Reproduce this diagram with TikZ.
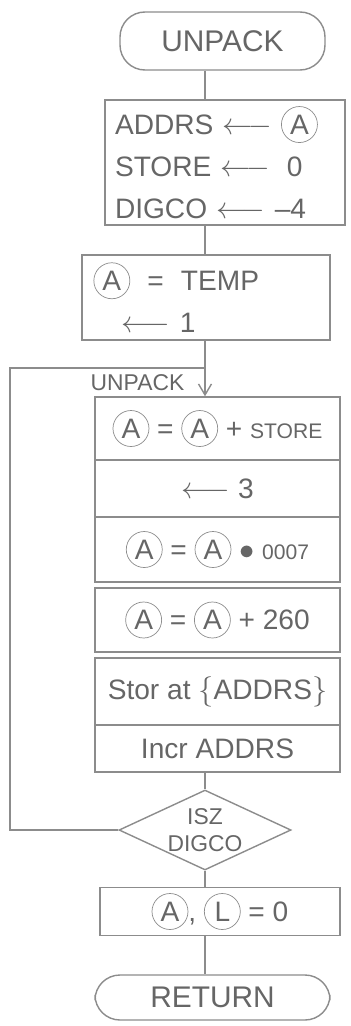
\documentclass[tikz,border=0pt]{standalone}
\usepackage{fontspec}
\setsansfont{Liberation Sans}
\usetikzlibrary{arrows.meta,positioning,shapes.geometric}
\colorlet{pencil}{black!45}
\colorlet{pencilink}{black!60}
\newcommand{\reg}[1]{\tikz[baseline=(reg.base)]\node[draw=pencil,circle,inner sep=0.5pt,minimum size=0.72cm,text=pencilink](reg){#1};}
\tikzset{
  termbox/.style={draw=pencil,rounded corners=0.5cm,align=center,
    font=\sffamily\fontsize{17}{20}\selectfont,text=pencilink,line width=0.8pt},
  procbox/.style={draw=pencil,align=left,text=pencilink,line width=0.8pt,
    font=\sffamily\fontsize{16}{24}\selectfont,minimum width=4.9cm},
  testbox/.style={draw=pencil,diamond,aspect=2.15,inner sep=0pt,align=center,
    minimum width=3.44cm,minimum height=1.6cm,text=pencilink,line width=0.8pt,
    font=\sffamily\fontsize{13}{15}\selectfont},
  flowline/.style={draw=pencil,line width=0.8pt},
  flowarrow/.style={-{Straight Barb[length=2.2mm,width=2.6mm]},draw=pencil,line width=0.8pt},
  looplabel/.style={font=\sffamily\fontsize{13}{15}\selectfont,text=pencilink}
}
\begin{document}
\begin{tikzpicture}
  \useasboundingbox (0,0) rectangle (7.02,-20.52);
  \coordinate (spine) at (4.1,0);
  \coordinate (loopleft) at (0.2,-7.36);
  \node[termbox,minimum width=4.1cm,minimum height=1.16cm] (start) at (4.45,-0.82) {UNPACK};
  \node[procbox,minimum width=4.8cm,minimum height=2.5cm,text width=4.4cm] (init) at (4.5,-3.25)
    {ADDRS $\longleftarrow$ \reg{A}\\ STORE $\longleftarrow$ \;0\\ DIGCO $\longleftarrow$ --4};
  \node[procbox,minimum width=4.96cm,minimum height=1.7cm,text width=4.5cm] (temp) at (4.12,-5.95)
    {\reg{A} \;=\; TEMP\\ \quad$\longleftarrow$ 1};
  \node[procbox,minimum height=1.26cm] (addst) at (4.35,-8.57) {\reg{A} = \reg{A} + {\fontsize{12}{14}\selectfont STORE}};
  \node[procbox,minimum height=1.14cm] (shift) at (4.35,-9.77) {$\longleftarrow$ 3};
  \node[procbox,minimum height=1.3cm] (mask) at (4.35,-10.99) {\reg{A} = \reg{A} $\bullet$ {\fontsize{12}{14}\selectfont 0007}};
  \node[procbox,minimum height=1.28cm] (ascii) at (4.35,-12.4) {\reg{A} = \reg{A} + 260};
  \node[procbox,minimum height=1.34cm] (store) at (4.35,-13.83) {Stor at $\bigl\{$ADDRS$\bigr\}$};
  \node[procbox,minimum height=0.94cm] (incr) at (4.35,-14.97) {Incr ADDRS};
  \node[testbox] (isz) at (4.1,-16.6) {ISZ\\DIGCO};
  \node[procbox,minimum width=4.8cm,minimum height=0.94cm] (clear) at (4.4,-18.23) {\reg{A}, \reg{L} = 0};
  \node[termbox,minimum width=4.7cm,minimum height=0.9cm] (return) at (4.25,-19.95) {RETURN};
  \node[looplabel] (looptag) at (2.75,-7.66) {UNPACK};
  % main line
  \draw[flowline] (start.south -| spine) -- (init.north -| spine);
  \draw[flowline] (init.south -| spine) -- (temp.north -| spine);
  \draw[flowarrow] (temp.south -| spine) -- (addst.north -| spine);
  \draw[flowline] (incr.south -| spine) -- (isz.north);
  \draw[flowline] (isz.south) -- (clear.north -| spine);
  \draw[flowline] (clear.south -| spine) -- (return.north -| spine);
  % loop back
  \draw[flowline] (isz.west) -| (loopleft) -- (loopleft -| spine);
\end{tikzpicture}
\end{document}
